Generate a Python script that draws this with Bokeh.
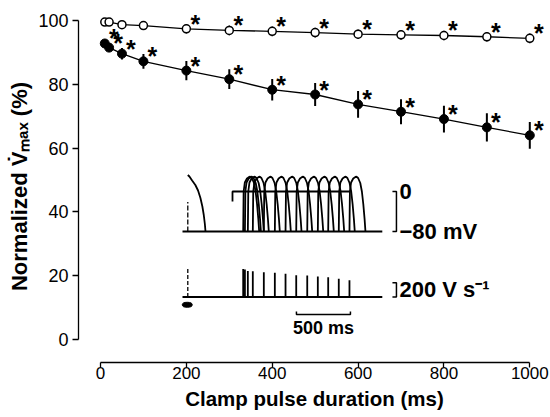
from bokeh.plotting import figure
from bokeh.models import Range1d, FixedTicker
from bokeh.core.properties import value
from bokeh.embed import file_html
from bokeh.resources import INLINE

FONT = "Liberation Sans"

# ---------------- main data ----------------
durations = [10, 20, 50, 100, 200, 300, 400, 500, 600, 700, 800, 900, 1000]
open_vmax = [99.5, 99.5, 98.7, 98.4, 97.4, 96.9, 96.6, 96.2, 95.7, 95.5, 95.3, 94.9, 94.4]
open_sem = [0.3, 0.3, 0.4, 0.5, 1.5, 1.5, 1.5, 1.5, 1.5, 1.5, 1.5, 1.5, 1.5]
open_sig = [False, False, False, False, True, True, True, True, True, True, True, True, True]
filled_vmax = [92.8, 91.5, 89.6, 87.2, 84.3, 81.6, 78.3, 76.8, 73.7, 71.4, 69.1, 66.5, 64.0]
filled_sem = [1.0, 1.2, 1.8, 2.3, 3.0, 3.1, 3.4, 3.6, 4.2, 3.9, 4.2, 4.4, 4.2]
filled_sig = [True] * 13
x_ticks = [0, 200, 400, 600, 800, 1000]
y_ticks = [0, 20, 40, 60, 80, 100]

# ---------------- inset (recorded traces) ----------------
trace_t = [0, 1850]            # ms, inset time
rest_mv = -80
first_ap_onset = 49
first_ap_t = [0, 15, 40, 70, 95, 117, 135, 148, 158, 164]
first_ap_v = [33, 30, 22, 13, 2, -13, -30, -47, -65, -80]
stim_t = 49
stim_mv = [-80, -21]
stim_dvdt = [0, 417]
clamp_t = [463, 463, 1555]
clamp_v = [-20, 0, 0]
ap_onsets = [562, 578, 605, 651, 753, 855, 954, 1053, 1155, 1253, 1349, 1447, 1546]
ap_t = [0, 4, 15, 35, 55, 65, 80, 100, 115, 128, 140, 148]
ap_v = [-80, 0, 18, 26, 29, 29.5, 27, 17, 0, -25, -55, -80]
dvdt_max = [390, 385, 365, 360, 345, 340, 325, 305, 300, 285, 275, 255, 235]

W, H = 550, 417
FL, FR, FT, FB = 78, 550, 10, 362   # frame in pixels


def rng_x(v0, px0, scale):
    return Range1d(v0 + (FL - px0) / scale, v0 + (FR - px0) / scale)


def rng_y(v0, px0, scale):
    return Range1d(v0 - (FB - px0) / scale, v0 + (px0 - FT) / scale)


p = figure(width=W, height=H, output_backend="svg", toolbar_location=None,
           x_range=rng_x(0, 100, 0.4293), y_range=rng_y(0, 339, 3.19),
           min_border_left=FL, min_border_right=W - FR,
           min_border_top=FT, min_border_bottom=H - FB)
p.outline_line_color = None
p.xgrid.visible = False
p.ygrid.visible = False
p.background_fill_color = "white"
p.border_fill_color = "white"

p.extra_x_ranges = {"t": rng_x(0, 182, 0.108)}
p.extra_y_ranges = {"mv": rng_y(-80, 231, 0.5), "dvdt": rng_y(0, 296.5, 0.0715)}

# axes
for ax in (p.xaxis[0], p.yaxis[0]):
    ax.axis_line_width = 1.3
    ax.major_tick_line_width = 1.3
    ax.major_tick_in = 0
    ax.minor_tick_line_color = None
    ax.major_label_text_font = FONT
    ax.major_label_text_color = "black"
    ax.axis_label_text_font = FONT
    ax.axis_label_text_font_style = "bold"
    ax.axis_label_text_color = "black"
p.xaxis.major_tick_out = 5
p.yaxis.major_tick_out = 6
p.xaxis.major_label_text_font_size = "17px"
p.yaxis.major_label_text_font_size = "18px"
p.xaxis.axis_label_text_font_size = "20.5px"
p.yaxis.axis_label_text_font_size = "22px"
p.xaxis.bounds = (0, 1000)
p.yaxis.bounds = (0, 100)
p.xaxis.ticker = FixedTicker(ticks=x_ticks)
p.yaxis.ticker = FixedTicker(ticks=y_ticks)
p.xaxis.major_label_standoff = -1
p.yaxis.major_label_standoff = 4
p.xaxis.axis_label = "Clamp pulse duration (ms)"
p.yaxis.axis_label = "Normalized V\u0307\u2098\u2090\u2093 (%)"
p.xaxis.axis_label_standoff = 5
p.yaxis.axis_label_standoff = 3

# ---- main data marks ----
p.line(durations, filled_vmax, line_color="black", line_width=1.3)
p.line(durations, open_vmax, line_color="black", line_width=1.3)
p.segment(x0=durations, x1=durations,
          y0=[v - e for v, e in zip(filled_vmax, filled_sem)],
          y1=[v + e for v, e in zip(filled_vmax, filled_sem)],
          line_color="black", line_width=2)
p.segment(x0=durations, x1=durations,
          y0=[v - e for v, e in zip(open_vmax, open_sem)],
          y1=[v + e for v, e in zip(open_vmax, open_sem)],
          line_color="black", line_width=1.5)
p.scatter(durations, filled_vmax, size=9, marker="circle",
          fill_color="black", line_color="black")
p.scatter(durations, open_vmax, size=8, marker="circle",
          fill_color="white", line_color="black", line_width=1.5)

ax_ = [d for d, s in zip(durations, filled_sig) if s]
ay_ = [v for v, s in zip(filled_vmax, filled_sig) if s]
bx_ = [d for d, s in zip(durations, open_sig) if s]
by_ = [v for v, s in zip(open_vmax, open_sig) if s]
for xs, ys in ((ax_, ay_), (bx_, by_)):
    p.text(x=xs, y=ys, text=["*"] * len(xs), x_offset=9, y_offset=-5,
           text_font=value(FONT), text_font_size="25px", text_font_style="bold",
           text_align="center", text_baseline="middle", text_color="black")

# ---- inset traces ----
kw_v = dict(x_range_name="t", y_range_name="mv")
kw_d = dict(x_range_name="t", y_range_name="dvdt")
TW = 1.8
p.line(trace_t, [rest_mv, rest_mv], line_color="black", line_width=TW, **kw_v)
p.line([stim_t, stim_t], stim_mv, line_color="black", line_width=1.3,
       line_dash="5 2", **kw_v)
p.line([first_ap_onset + t for t in first_ap_t], first_ap_v,
       line_color="black", line_width=TW, **kw_v)
p.line(clamp_t, clamp_v, line_color="black", line_width=TW, **kw_v)
p.multi_line(xs=[[o + t for t in ap_t] for o in ap_onsets],
             ys=[list(ap_v) for _ in ap_onsets],
             line_color="black", line_width=TW, **kw_v)

p.line(trace_t, [0, 0], line_color="black", line_width=TW, **kw_d)
p.line([stim_t, stim_t], stim_dvdt, line_color="black", line_width=1.3,
       line_dash="4 2", **kw_d)
p.segment(x0=ap_onsets, x1=ap_onsets, y0=0, y1=dvdt_max,
          line_color="black", line_width=1.8, **kw_d)
p.ellipse(x=[stim_t - 5], y=[-109], width=10, height=5,
          width_units="screen", height_units="screen",
          fill_color="black", line_color="black", **kw_d)

# scale bars
p.line([1944, 1981, 1981, 1944], [0, 0, -80, -80], line_color="black",
       line_width=1.5, **kw_v)
p.line([1944, 1981, 1981, 1944], [200, 200, 0, 0], line_color="black",
       line_width=1.5, **kw_d)
p.line([1055, 1055, 1555, 1555], [-203, -245, -245, -203], line_color="black",
       line_width=1.5, **kw_d)
p.text(x=[2009, 2009], y=[0, -80], text=["0", "\u221280 mV"],
       text_font=value(FONT), text_font_size="22px", text_font_style="bold",
       text_align="left", text_baseline="middle", text_color="black", **kw_v)
p.text(x=[2009], y=[100], text=["200 V s\u207b\u00b9"],
       text_font=value(FONT), text_font_size="22px", text_font_style="bold",
       text_align="left", text_baseline="middle", text_color="black", **kw_d)
p.text(x=[1305], y=[-440], text=["500 ms"],
       text_font=value(FONT), text_font_size="18px", text_font_style="bold",
       text_align="center", text_baseline="middle", text_color="black", **kw_d)

open("out.html", "w").write(file_html(p, INLINE))
